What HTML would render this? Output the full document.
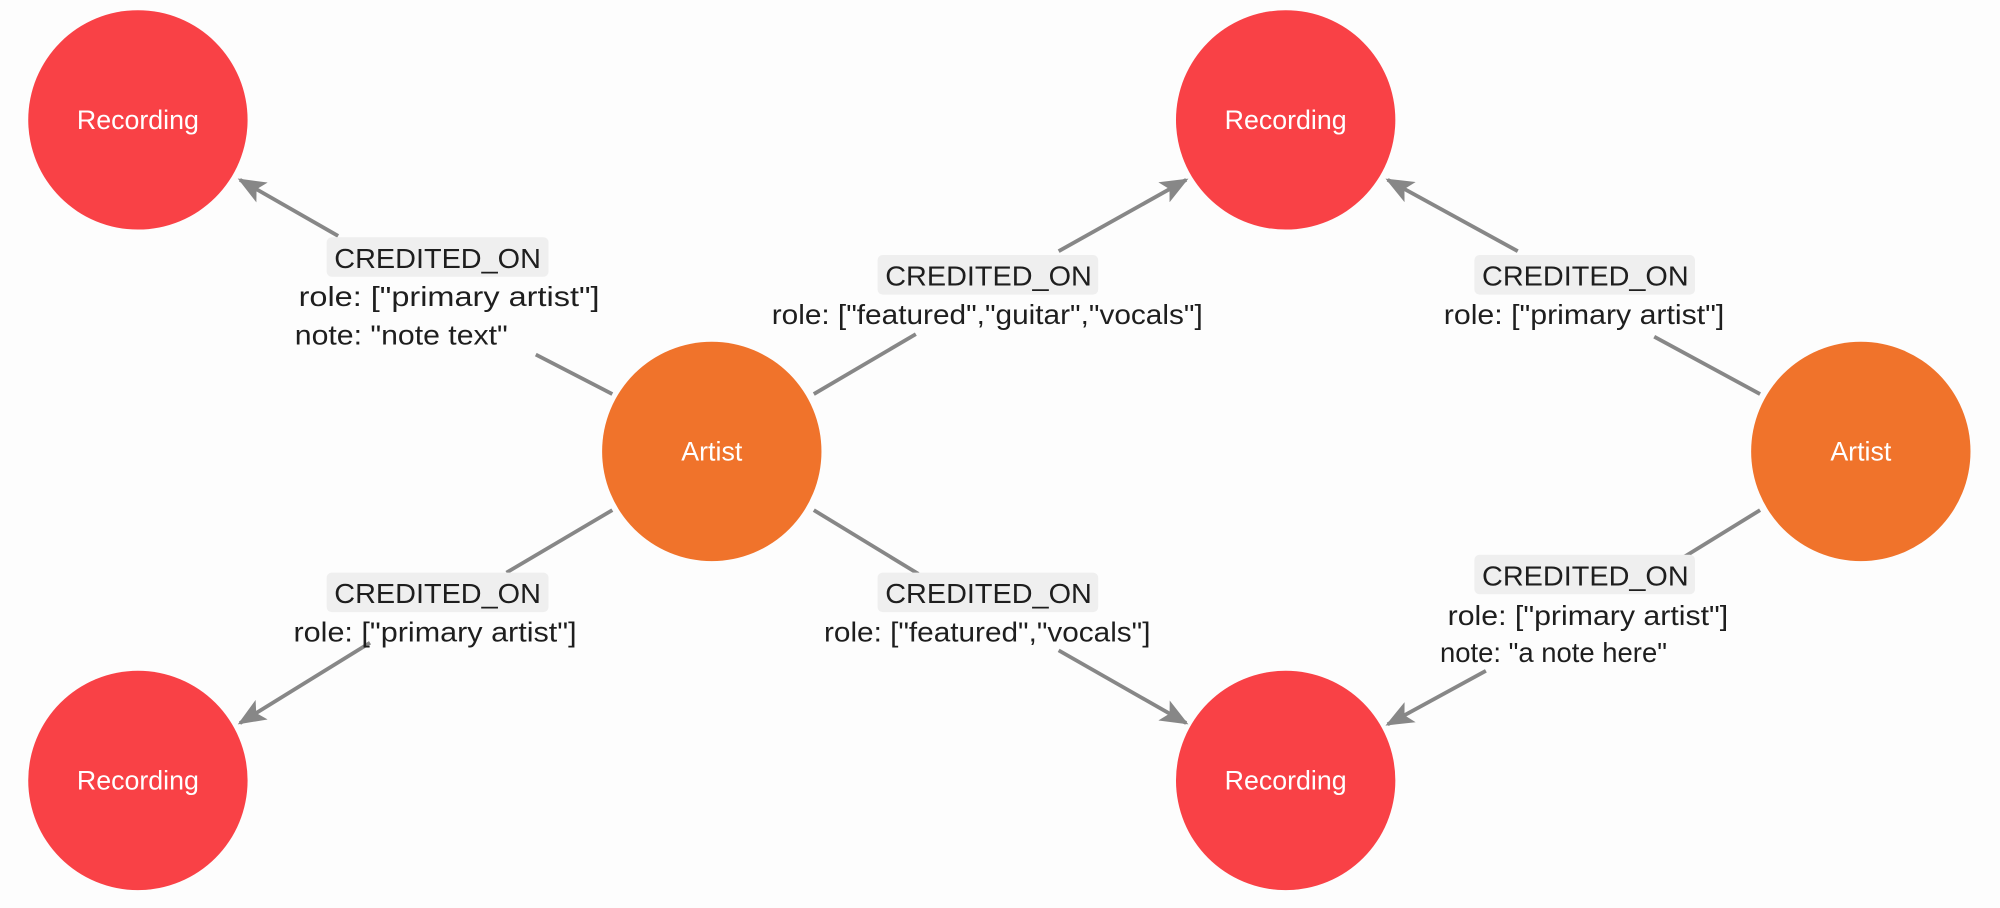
<!DOCTYPE html>
<html><head><meta charset="utf-8"><style>
html,body{margin:0;padding:0;background:#fdfdfd;width:2000px;height:908px;overflow:hidden}
svg{display:block}
text{font-family:"Liberation Sans",sans-serif;fill:#1e1e1e}
.n{fill:#fff;font-size:21px}
.l{font-size:22px}
.b{fill:#efefef}
line{stroke:#878787;stroke-width:3}
</style></head><body>
<svg width="2000" height="908" viewBox="0 0 1568 712" xmlns="http://www.w3.org/2000/svg">
<defs>
<marker id="b" markerWidth="22" markerHeight="18" refX="20" refY="9" orient="auto" markerUnits="userSpaceOnUse"><path d="M0,0 L22,9 L0,18 L5,9 z" fill="#878787"/></marker></defs>
<rect width="1568" height="712" fill="#fdfdfd"/>
<line x1="480" y1="309" x2="420" y2="278"/><line x1="265" y1="185" x2="188" y2="141" marker-end="url(#b)"/>
<line x1="638" y1="309" x2="718" y2="262"/><line x1="830" y1="197" x2="930" y2="141" marker-end="url(#b)"/>
<line x1="1380" y1="309" x2="1297" y2="264"/><line x1="1190" y1="197" x2="1088" y2="141" marker-end="url(#b)"/>
<line x1="480" y1="400" x2="397" y2="449"/><line x1="290" y1="504" x2="188" y2="567" marker-end="url(#b)"/>
<line x1="638" y1="400" x2="720" y2="450"/><line x1="830" y1="510" x2="930" y2="567" marker-end="url(#b)"/>
<line x1="1380" y1="400" x2="1320" y2="437"/><line x1="1165" y1="526" x2="1088" y2="568" marker-end="url(#b)"/>
<circle cx="108" cy="94" r="86" fill="#f94146"/><text class="n" x="108" y="101" text-anchor="middle">Recording</text>
<circle cx="1008" cy="94" r="86" fill="#f94146"/><text class="n" x="1008" y="101" text-anchor="middle">Recording</text>
<circle cx="108" cy="612" r="86" fill="#f94146"/><text class="n" x="108" y="619" text-anchor="middle">Recording</text>
<circle cx="1008" cy="612" r="86" fill="#f94146"/><text class="n" x="1008" y="619" text-anchor="middle">Recording</text>
<circle cx="558" cy="354" r="86" fill="#f0732b"/><text class="n" x="558" y="361" text-anchor="middle">Artist</text>
<circle cx="1459" cy="354" r="86" fill="#f0732b"/><text class="n" x="1459" y="361" text-anchor="middle">Artist</text>
<rect class="b" x="256" y="186" width="174" height="31" rx="4"/><text class="l" x="262" y="210" textLength="162" lengthAdjust="spacingAndGlyphs">CREDITED_ON</text>
<text class="l" x="234" y="240" textLength="236" lengthAdjust="spacingAndGlyphs">role: ["primary artist"]</text>
<text class="l" x="231" y="270" textLength="167" lengthAdjust="spacingAndGlyphs">note: "note text"</text>
<rect class="b" x="688" y="200" width="173" height="31" rx="4"/><text class="l" x="694" y="224" textLength="162" lengthAdjust="spacingAndGlyphs">CREDITED_ON</text>
<text class="l" x="605" y="254" textLength="338" lengthAdjust="spacingAndGlyphs">role: ["featured","guitar","vocals"]</text>
<rect class="b" x="1156" y="200" width="173" height="31" rx="4"/><text class="l" x="1162" y="224" textLength="162" lengthAdjust="spacingAndGlyphs">CREDITED_ON</text>
<text class="l" x="1132" y="254" textLength="220" lengthAdjust="spacingAndGlyphs">role: ["primary artist"]</text>
<rect class="b" x="256" y="449" width="174" height="31" rx="4"/><text class="l" x="262" y="473" textLength="162" lengthAdjust="spacingAndGlyphs">CREDITED_ON</text>
<text class="l" x="230" y="503" textLength="222" lengthAdjust="spacingAndGlyphs">role: ["primary artist"]</text>
<rect class="b" x="688" y="449" width="173" height="31" rx="4"/><text class="l" x="694" y="473" textLength="162" lengthAdjust="spacingAndGlyphs">CREDITED_ON</text>
<text class="l" x="646" y="503" textLength="256" lengthAdjust="spacingAndGlyphs">role: ["featured","vocals"]</text>
<rect class="b" x="1156" y="435" width="173" height="31" rx="4"/><text class="l" x="1162" y="459" textLength="162" lengthAdjust="spacingAndGlyphs">CREDITED_ON</text>
<text class="l" x="1135" y="490" textLength="220" lengthAdjust="spacingAndGlyphs">role: ["primary artist"]</text>
<text class="l" x="1129" y="519" textLength="178" lengthAdjust="spacingAndGlyphs">note: "a note here"</text>
</svg>
</body></html>
